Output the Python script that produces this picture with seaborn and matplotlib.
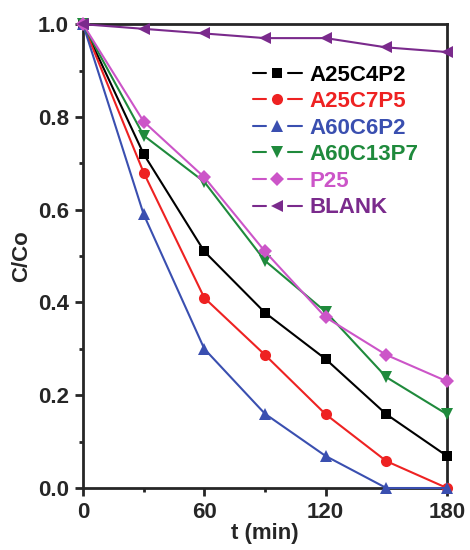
import numpy as np
import pandas as pd
import matplotlib
matplotlib.use("Agg")
import matplotlib.pyplot as plt
import seaborn as sns
from matplotlib.ticker import MultipleLocator, FormatStrFormatter
from matplotlib.legend_handler import HandlerLine2D
from matplotlib.lines import Line2D

sns.set_style("ticks")
plt.rcParams['font.family'] = ['Liberation Sans', 'DejaVu Sans']
plt.rcParams['font.weight'] = 'bold'

time = [0, 30, 60, 90, 120, 150, 180]
labels = ["A25C4P2", "A25C7P5", "A60C6P2", "A60C13P7", "P25", "BLANK"]
a25c4p2 = [1.0, 0.72, 0.51, 0.378, 0.278, 0.159, 0.069]
a25c7p5 = [1.0, 0.68, 0.41, 0.287, 0.159, 0.058, 0.0]
a60c6p2 = [1.0, 0.59, 0.30, 0.16, 0.069, 0.0, 0.0]
a60c13p7 = [1.0, 0.76, 0.66, 0.49, 0.38, 0.239, 0.159]
p25 = [1.0, 0.79, 0.67, 0.51, 0.368, 0.287, 0.23]
blank = [1.0, 0.99, 0.98, 0.97, 0.97, 0.95, 0.94]
series = [a25c4p2, a25c7p5, a60c6p2, a60c13p7, p25, blank]
colors = ["#000000", "#ee2222", "#3a4fb0", "#1f8a3c", "#cc55c8", "#7a2a8c"]
markers = ["s", "o", "^", "v", "D", "<"]
msizes = [7, 8, 8, 8, 7.5, 8]

rows = []
for lab, vals in zip(labels, series):
    for t, v in zip(time, vals):
        rows.append({"t": t, "c": v, "sample": lab})
df = pd.DataFrame(rows)


class GapHandler(HandlerLine2D):
    def create_artists(self, legend, orig_handle, xdescent, ydescent,
                       width, height, fontsize, trans):
        y = height / 2.0 - ydescent
        x0 = -xdescent
        x1 = width - xdescent
        w = x1 - x0
        col = orig_handle.get_color()
        lw = orig_handle.get_linewidth()
        seg1 = Line2D([x0, x0 + 0.26 * w], [y, y], color=col, lw=lw)
        seg2 = Line2D([x0 + 0.72 * w, x1], [y, y], color=col, lw=lw)
        mk = Line2D([x0 + 0.5 * w], [y], linestyle='none',
                    marker=orig_handle.get_marker(),
                    markersize=orig_handle.get_markersize(),
                    markerfacecolor=col, markeredgewidth=0)
        arts = [seg1, seg2, mk]
        for a in arts:
            a.set_transform(trans)
        return arts


fig = plt.figure(figsize=(4.7, 5.5), dpi=100)
ax = fig.add_axes([0.1766, 0.1127, 0.951 - 0.1766, 0.956 - 0.1127])

for lab, col, mk, ms in zip(labels, colors, markers, msizes):
    sub = df[df["sample"] == lab]
    sns.lineplot(data=sub, x="t", y="c", ax=ax, color=col, marker=mk,
                 markersize=ms, markeredgewidth=0, linewidth=1.5,
                 label=lab, clip_on=False, zorder=3)

ax.set_xlim(0, 180)
ax.set_ylim(0, 1.0)
ax.xaxis.set_major_locator(MultipleLocator(60))
ax.xaxis.set_minor_locator(MultipleLocator(30))
ax.yaxis.set_major_locator(MultipleLocator(0.2))
ax.yaxis.set_minor_locator(MultipleLocator(0.1))
ax.yaxis.set_major_formatter(FormatStrFormatter('%.1f'))
ax.tick_params(which='major', direction='out', length=6, width=2,
               labelsize=16, pad=4)
ax.tick_params(which='minor', direction='out', length=3, width=2)
for s in ax.spines.values():
    s.set_linewidth(2)
ax.set_xlabel("t (min)", fontsize=16, fontweight='bold', labelpad=0)
ax.set_ylabel("C/Co", fontsize=16, fontweight='bold', labelpad=4)

h, l = ax.get_legend_handles_labels()
leg = ax.legend(h, l, loc='upper left', bbox_to_anchor=(0.467, 0.913),
                frameon=False, fontsize=16, handlelength=2.2,
                handletextpad=0.36, labelspacing=0.25, borderaxespad=0,
                borderpad=0, handler_map={Line2D: GapHandler()})
for txt, col in zip(leg.get_texts(), colors):
    txt.set_color(col)
    txt.set_fontweight('bold')

fig.savefig("out.png", dpi=100)
